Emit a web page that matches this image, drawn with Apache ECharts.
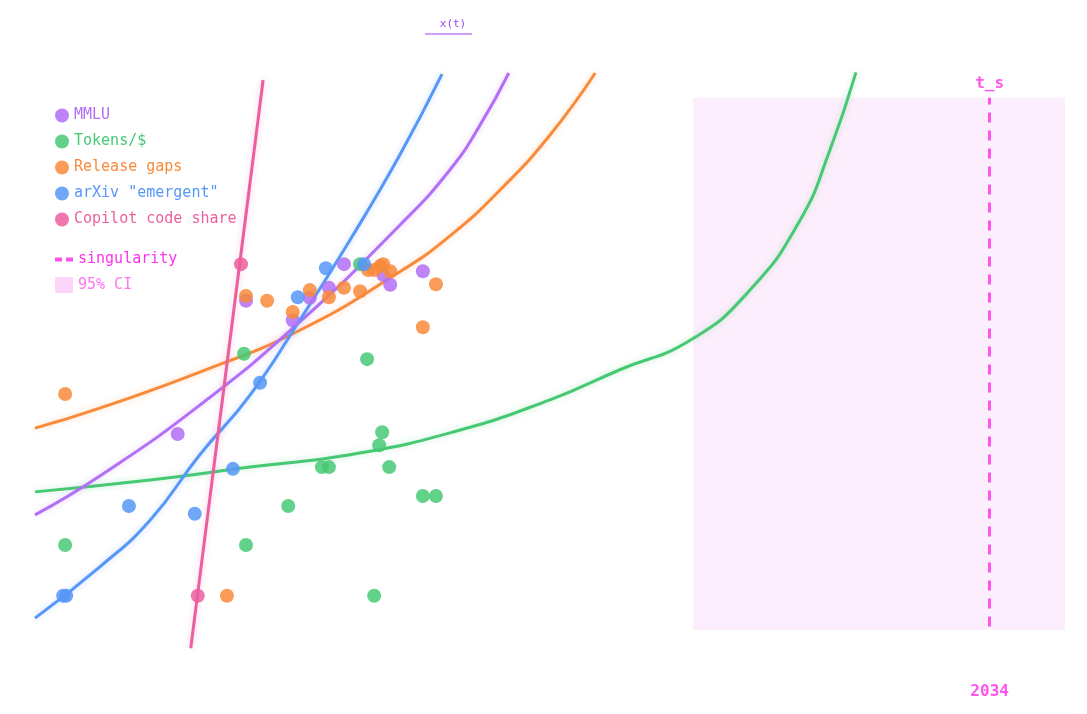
<!DOCTYPE html>
<html>
<head>
<meta charset="utf-8">
<script src="https://cdn.jsdelivr.net/npm/echarts@6/dist/echarts.min.js"></script>
<style>html,body{margin:0;background:#fff}#chart{width:1087px;height:714px}</style>
</head>
<body>
<div id="chart"></div>
<script>
// values: [year, index]
var mmluPts = [[2017.84,36.6],[2019.20,59.2],[2020.13,55.9],[2020.47,59.7],[2020.85,61.4],[2021.15,65.4],[2021.93,63.6],[2022.07,61.9],[2022.72,64.2]];
var tokensPts = [[2015.60,17.8],[2019.16,50.2],[2019.20,17.8],[2020.04,24.4],[2020.71,31.0],[2020.85,31.0],[2021.47,65.4],[2021.61,49.3],[2021.85,34.7],[2021.91,36.9],[2022.05,31.0],[2021.75,9.2],[2022.72,26.1],[2022.98,26.1]];
var gapsPts = [[2015.60,43.4],[2018.82,9.2],[2019.20,60.0],[2019.62,59.2],[2020.13,57.3],[2020.47,61.0],[2020.85,59.8],[2021.15,61.4],[2021.47,60.8],[2021.63,64.4],[2021.75,64.4],[2021.87,65.1],[2021.93,65.4],[2022.07,64.2],[2022.72,54.7],[2022.98,62.0]];
var arxivPts = [[2015.56,9.2],[2015.62,9.2],[2016.87,24.4],[2018.18,23.1],[2018.94,30.7],[2019.48,45.3],[2020.23,59.8],[2020.79,64.7],[2021.55,65.4]];
var copilotPts = [[2018.24,9.2],[2019.10,65.4]];

var mmluFit = [[2015,22.9],[2016.29,29.5],[2018.28,41.5],[2020.27,55.6],[2022.26,72.0],[2023.26,81.4],[2023.86,89.0],[2024.43,97.8]];
var tokensFit = [[2015,26.8],[2017.29,28.8],[2019.28,31.0],[2021.27,33.1],[2023.26,36.8],[2025.25,42.4],[2026.64,47.5],[2028.04,52.5],[2029.23,61.0],[2030.23,72.9],[2030.82,84.7],[2031.34,97.9]];
var gapsFit = [[2015,37.6],[2016.29,41.0],[2018.28,47.1],[2020.27,54.2],[2022.26,64.1],[2023.26,70.2],[2024.26,78.0],[2025.25,87.3],[2026.15,97.8]];
var arxivFit = [[2015,5.4],[2016.29,14.1],[2017.29,22.0],[2018.28,33.1],[2019.28,43.2],[2020.27,55.9],[2021.27,69.5],[2022.26,83.9],[2023.10,97.6]];
var copilotFit = [[2018.10,0.3],[2019.54,96.6]];

var tSingular = 2034;
var ciRange = [2028.1, 2035.5];

var C = {mmlu:'#b36ff6', tokens:'#47c974', gaps:'#f98a3a', arxiv:'#5697f7', copilot:'#ec5f9f', sing:'#ff55ee'};
var mono = '"DejaVu Sans Mono", monospace';

function fit(data, color) {
    return {
        type: 'line', data: data, smooth: true, showSymbol: false, silent: true,
        lineStyle: {color: color, width: 3, shadowColor: color + '55', shadowBlur: 6},
        z: 2
    };
}
function pts(name, data, color) {
    return {
        name: name, type: 'scatter', data: data, symbolSize: 14,
        itemStyle: {color: color, opacity: 0.85}, z: 3
    };
}

var chart = echarts.init(document.getElementById('chart'));
chart.setOption({
    animation: false,
    title: {
        text: 'x(t)', left: 448, top: 14, textAlign: 'center',
        textStyle: {fontFamily: mono, fontSize: 11, fontWeight: 'normal', color: '#9b45f0'}
    },
    graphic: [{type: 'line', shape: {x1: 425, y1: 34, x2: 472, y2: 34}, style: {stroke: '#9b45f0', lineWidth: 1}}],
    legend: [{
        orient: 'vertical', left: 50, top: 103, itemGap: 11, itemWidth: 14, itemHeight: 14,
        icon: 'circle', textStyle: {fontFamily: mono, fontSize: 15},
        data: [
            {name: 'MMLU', textStyle: {color: C.mmlu}},
            {name: 'Tokens/$', textStyle: {color: C.tokens}},
            {name: 'Release gaps', textStyle: {color: C.gaps}},
            {name: 'arXiv "emergent"', textStyle: {color: C.arxiv}},
            {name: 'Copilot code share', textStyle: {color: C.copilot}}
        ]
    }, {
        orient: 'vertical', left: 50, top: 247, itemGap: 10, itemWidth: 18, itemHeight: 16,
        textStyle: {fontFamily: mono, fontSize: 15},
        data: [
            {name: 'singularity', icon: 'path://M0,6h7v4H0z M11,6h7v4h-7z', itemStyle: {color: C.sing}, textStyle: {color: '#ff33ee'}},
            {name: '95% CI', icon: 'rect', itemStyle: {color: '#fdd5fb'}, textStyle: {color: '#ff77ee'}}
        ]
    }],
    grid: {left: 35, right: 22, top: 60, bottom: 64},
    xAxis: {
        type: 'value', min: 2015, max: 2035.5, interval: 0.5,
        axisLine: {show: false}, axisTick: {show: false}, splitLine: {show: false},
        axisLabel: {
            margin: 34, fontFamily: mono, fontSize: 16, fontWeight: 'bold', color: C.sing,
            formatter: function (v) { return v === tSingular ? String(v) : ''; }
        }
    },
    yAxis: {type: 'value', min: 0, max: 100, show: false},
    series: [
        {
            name: '95% CI', type: 'line', data: [], itemStyle: {color: '#fdd5fb'},
            markArea: {silent: true, itemStyle: {color: '#fdeefd'},
                data: [[{xAxis: ciRange[0], yAxis: 93.6}, {xAxis: ciRange[1], yAxis: 3.4}]]}
        },
        {
            name: 'singularity', type: 'line', data: [], itemStyle: {color: C.sing},
            markLine: {
                silent: true, symbol: 'none',
                lineStyle: {color: C.sing, type: [10, 8], width: 3},
                label: {position: 'end', formatter: 't_s', fontFamily: mono, fontSize: 16, fontWeight: 'bold', color: C.sing, distance: 6},
                data: [[{coord: [tSingular, 4]}, {coord: [tSingular, 93.6]}]]
            }
        },
        fit(tokensFit, C.tokens),
        fit(gapsFit, C.gaps),
        fit(mmluFit, C.mmlu),
        fit(arxivFit, C.arxiv),
        fit(copilotFit, C.copilot),
        pts('MMLU', mmluPts, C.mmlu),
        pts('Tokens/$', tokensPts, C.tokens),
        pts('Release gaps', gapsPts, C.gaps),
        pts('arXiv "emergent"', arxivPts, C.arxiv),
        pts('Copilot code share', copilotPts, C.copilot)
    ]
});
</script>
</body>
</html>
